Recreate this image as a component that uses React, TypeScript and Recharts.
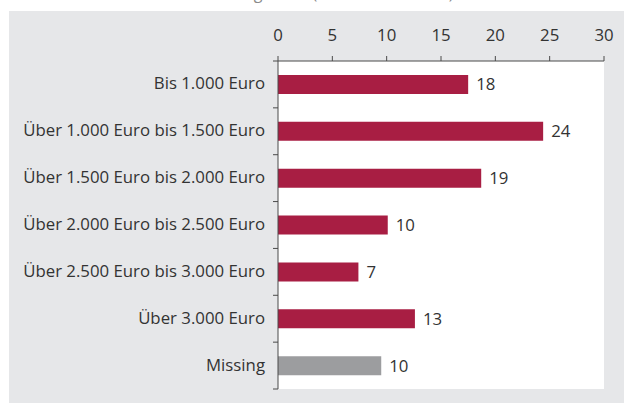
import React from 'react';
import { BarChart, Bar, XAxis, YAxis, CartesianGrid, LabelList, Cell } from 'recharts';

const categories = [
  'Bis 1.000 Euro',
  'Über 1.000 Euro bis 1.500 Euro',
  'Über 1.500 Euro bis 2.000 Euro',
  'Über 2.000 Euro bis 2.500 Euro',
  'Über 2.500 Euro bis 3.000 Euro',
  'Über 3.000 Euro',
  'Missing',
];
const values = [17.5, 24.4, 18.7, 10.1, 7.4, 12.6, 9.5];
const valueLabels = ['18', '24', '19', '10', '7', '13', '10'];
const xTicks = [0, 5, 10, 15, 20, 25, 30];
const titleText = 'Haushaltseinkommen gesamt (Anteile in Prozent)';

const data = categories.map((name, i) => ({ name, value: values[i], label: valueLabels[i] }));

const FONT = '"Open Sans", sans-serif';
const FONT_SIZE = 16.8;
const TEXT = '#333333';
const AXIS = '#4a4a4a';
const BAR = '#a81e43';
const BAR_MISSING = '#9c9d9f';
const PANEL = '#e6e7e9';
const Y_TICK_SIZE = 5;
const Y_TICK_MARGIN = 8;

const CategoryTick = (props: any) => {
  const { x, y, payload, index } = props;
  const off = payload && typeof payload.offset === 'number' ? payload.offset : 0;
  const x0 = x + Y_TICK_MARGIN;
  const x1 = x0 + Y_TICK_SIZE;
  return (
    <g>
      <text x={x} y={y} dy={5} textAnchor="end" fill={TEXT} fontSize={FONT_SIZE} fontFamily={FONT}>
        {payload.value}
      </text>
      {index === 0 && <line x1={x0} x2={x1} y1={y - off} y2={y - off} stroke={AXIS} strokeWidth={1} />}
      <line x1={x0} x2={x1} y1={y + off} y2={y + off} stroke={AXIS} strokeWidth={1} />
    </g>
  );
};

export default function App() {
  return (
    <div style={{ position: 'absolute', left: 0, top: 0, width: 624, height: 403, background: '#fff', overflow: 'hidden' }}>
      <svg style={{ position: 'absolute', left: 0, top: 0 }} width={624} height={11}>
        <text x={86} y={-1} fill="#8a8a8a" fontSize={16} fontFamily={FONT}>
          {titleText}
        </text>
      </svg>
      <div style={{ position: 'absolute', left: 9, top: 11, width: 615, height: 392, background: PANEL }}>
        <BarChart
          layout="vertical"
          width={615}
          height={392}
          data={data}
          margin={{ top: 0, right: 20, bottom: 14, left: 0 }}
        >
          <CartesianGrid horizontal={false} vertical={false} fill="#ffffff" stroke="none" />
          <XAxis
            type="number"
            orientation="top"
            domain={[0, 30]}
            ticks={xTicks}
            height={50}
            tickSize={5}
            tickMargin={15}
            axisLine={{ stroke: AXIS }}
            tickLine={{ stroke: AXIS }}
            tick={{ fill: TEXT, fontSize: FONT_SIZE, fontFamily: FONT }}
            allowDataOverflow
          />
          <YAxis
            type="category"
            dataKey="name"
            width={269}
            interval={0}
            tickSize={Y_TICK_SIZE}
            tickMargin={Y_TICK_MARGIN}
            tickLine={false}
            axisLine={{ stroke: AXIS }}
            tick={<CategoryTick />}
          />
          <Bar dataKey="value" barSize={19} isAnimationActive={false}>
            {data.map((d, i) => (
              <Cell key={i} fill={d.name === 'Missing' ? BAR_MISSING : BAR} />
            ))}
            <LabelList
              dataKey="label"
              position="right"
              offset={8}
              fill={TEXT}
              fontSize={FONT_SIZE}
              fontFamily={FONT}
            />
          </Bar>
        </BarChart>
      </div>
    </div>
  );
}
